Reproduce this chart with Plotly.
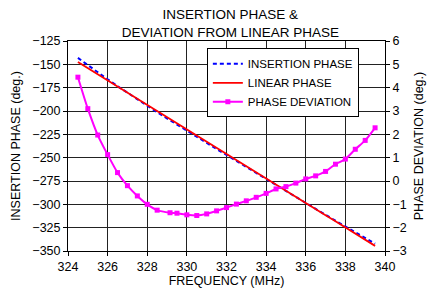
import plotly.graph_objects as go

freq = [324.5, 325.0, 325.5, 326.0, 326.5, 327.0, 327.5, 328.0, 328.5, 329.15,
        329.5, 330.0, 330.5, 331.0, 331.5, 332.0, 332.5, 333.0, 333.5, 334.0,
        334.5, 335.0, 335.5, 336.0, 336.5, 337.0, 337.5, 338.0, 338.5, 339.0, 339.5]

insertion_phase = [-143.1, -151.0, -158.7, -166.1, -173.4, -180.5, -187.5, -194.5, -201.3, -209.9,
                   -214.6, -221.2, -227.8, -234.3, -240.7, -247.1, -253.6, -260.0, -266.4, -272.8,
                   -279.2, -285.6, -292.1, -298.4, -304.9, -311.3, -317.5, -323.9, -330.0, -336.2, -342.2]

linear_phase = [-147.5, -154.1, -160.6, -167.2, -173.8, -180.3, -186.9, -193.5, -200.0, -208.6,
                -213.2, -219.7, -226.3, -232.9, -239.4, -246.0, -252.6, -259.1, -265.7, -272.3,
                -278.8, -285.4, -292.0, -298.5, -305.1, -311.7, -318.2, -324.8, -331.4, -337.9, -344.5]

phase_deviation = [4.45, 3.10, 1.97, 1.13, 0.36, -0.20, -0.64, -1.00, -1.25, -1.36,
                   -1.38, -1.45, -1.48, -1.41, -1.28, -1.14, -0.99, -0.85, -0.70, -0.53,
                   -0.34, -0.24, -0.09, 0.09, 0.22, 0.41, 0.72, 0.94, 1.36, 1.74, 2.28]

FONT = "Liberation Sans, Arial, Helvetica, sans-serif"

fig = go.Figure()
fig.add_trace(go.Scatter(x=freq, y=insertion_phase, name="INSERTION PHASE", mode="lines",
                         line=dict(color="#0000ff", width=2, dash="4px,3px")))
fig.add_trace(go.Scatter(x=freq, y=linear_phase, name="LINEAR PHASE", mode="lines",
                         line=dict(color="#ff0000", width=1.8)))
fig.add_trace(go.Scatter(x=freq, y=phase_deviation, name="PHASE DEVIATION", mode="lines+markers",
                         yaxis="y2",
                         line=dict(color="#ff00ff", width=2, shape="spline", smoothing=0.6),
                         marker=dict(symbol="square", size=5, color="#ff00ff")))

fig.update_layout(
    width=437, height=290,
    margin=dict(l=67.5, r=51.5, t=41, b=39, autoexpand=False),
    paper_bgcolor="white", plot_bgcolor="white",
    font=dict(family=FONT, size=12, color="black"),
    title=dict(text="INSERTION PHASE &<br>DEVIATION FROM LINEAR PHASE",
               x=0.527, xanchor="center", y=1 - 19 / 290, yanchor="bottom",
               font=dict(family=FONT, size=13.5, color="black")),
    xaxis=dict(range=[324, 340], dtick=2, tick0=324, automargin=False,
               showgrid=True, gridcolor="#222", gridwidth=1.2,
               showline=True, linecolor="black", linewidth=1, mirror=True,
               ticks="outside", ticklen=4, tickcolor="black", zeroline=False,
               title=dict(text="FREQUENCY (MHz)", standoff=2, font=dict(size=12.5)),
               tickfont=dict(size=12.5)),
    yaxis=dict(range=[-350, -125], dtick=25, tick0=-350, automargin=False,
               showgrid=True, gridcolor="#222", gridwidth=1.2,
               showline=True, linecolor="black", linewidth=1, mirror=True,
               ticks="outside", ticklen=4, tickcolor="black", zeroline=False,
               title=dict(text="INSERTION PHASE (deg.)", standoff=8, font=dict(size=12.5)),
               tickfont=dict(size=12.5)),
    yaxis2=dict(range=[-3, 6], dtick=1, tick0=-3, overlaying="y", side="right", automargin=False,
                showgrid=False, zeroline=False, showline=False,
                ticks="outside", ticklen=4, tickcolor="black",
                title=dict(text="PHASE DEVIATION (deg.)", standoff=8, font=dict(size=12.5)),
                tickfont=dict(size=12.5)),
    legend=dict(x=0.438, y=0.965, xanchor="left", yanchor="top",
                bgcolor="white", bordercolor="black", borderwidth=1,
                font=dict(size=11.5), tracegroupgap=0, itemwidth=30,
                entrywidth=135, entrywidthmode="pixels"),
    showlegend=True,
)

fig.write_html("out.html", config={"displayModeBar": False},
               post_script="document.body.style.margin='0';document.body.style.padding='0';")
